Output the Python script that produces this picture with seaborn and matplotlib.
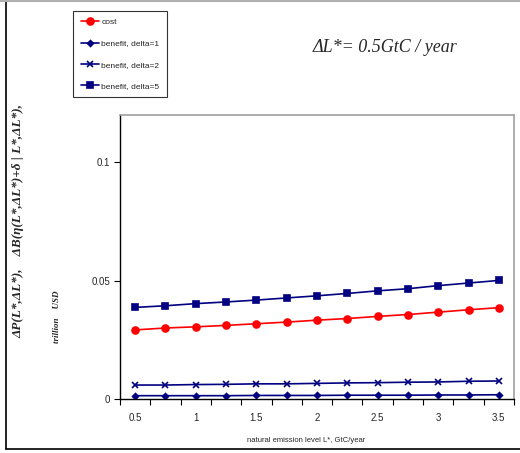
import numpy as np
import pandas as pd
import matplotlib
matplotlib.use("Agg")
import matplotlib.pyplot as plt
from matplotlib.lines import Line2D
import seaborn as sns

# Natural emission level L*, GtC/year
emission_levels = [0.5, 0.75, 1.0, 1.25, 1.5, 1.75, 2.0, 2.25, 2.5, 2.75, 3.0, 3.25, 3.5]
x_tick_labels = ["0.5", "1", "1.5", "2", "2.5", "3", "3.5"]
y_tick_values = [0, 0.05, 0.1]
y_tick_labels = ["0", "0.05", "0.1"]

# Cost and benefits, trillion USD
cost = [0.0292, 0.0300, 0.0305, 0.0311, 0.0318, 0.0325, 0.0333,
        0.0340, 0.0349, 0.0357, 0.0367, 0.0377, 0.0386]
benefit_delta1 = [0.0014, 0.0014, 0.0014, 0.0014, 0.0015, 0.0015, 0.0015,
                  0.0016, 0.0016, 0.0016, 0.0017, 0.0017, 0.0018]
benefit_delta2 = [0.0059, 0.0059, 0.0061, 0.0062, 0.0064, 0.0064, 0.0066,
                  0.0068, 0.0069, 0.0071, 0.0072, 0.0075, 0.0076]
benefit_delta5 = [0.0387, 0.0394, 0.0403, 0.0410, 0.0418, 0.0427, 0.0436,
                  0.0446, 0.0457, 0.0466, 0.0479, 0.0490, 0.0501]

series_names = ["cost", "benefit, delta=1", "benefit, delta=2", "benefit, delta=5"]
series_values = [cost, benefit_delta1, benefit_delta2, benefit_delta5]

df = pd.DataFrame({
    "L": np.tile(emission_levels, len(series_names)),
    "value": np.concatenate(series_values),
    "series": np.repeat(series_names, len(emission_levels)),
})

sns.set_style("white")
plt.rcParams["font.family"] = ["Liberation Sans", "DejaVu Sans"]

W, H = 520, 453
fig = plt.figure(figsize=(W / 100, H / 100), dpi=100)
ax = fig.add_axes([120 / W, 1 - 399 / H, (514 - 120) / W, (399 - 115) / H])

palette = {"cost": "#ff0000", "benefit, delta=1": "#000080",
           "benefit, delta=2": "#000080", "benefit, delta=5": "#000080"}
markers = {"cost": "o", "benefit, delta=1": "D",
           "benefit, delta=2": "x", "benefit, delta=5": "s"}
sizes = {"cost": 5.0, "benefit, delta=1": 3.0,
         "benefit, delta=2": 3.8, "benefit, delta=5": 4.6}

handles = []
for name in series_names:
    sub = df[df["series"] == name]
    sns.lineplot(data=sub, x="L", y="value", ax=ax, color=palette[name],
                 marker=markers[name], markersize=sizes[name],
                 markeredgecolor=palette[name], markeredgewidth=1.2,
                 linewidth=1.2, legend=False)
    handles.append(Line2D([], [], color=palette[name], marker=markers[name],
                          markersize=sizes[name], markeredgecolor=palette[name],
                          markeredgewidth=1.2, linewidth=1.2, label=name))

ax.set_xlim(0.375, 3.625)
ax.set_ylim(0, 0.12)
ax.set_xticks([float(t) for t in x_tick_labels])
ax.set_xticklabels(x_tick_labels, fontsize=7)
ax.set_xticks(np.arange(0.375, 3.626, 0.25), minor=True)
ax.tick_params(axis="x", which="major", length=0, pad=10)
ax.tick_params(axis="x", which="minor", length=4, width=0.8, color="black",
               direction="out", bottom=True)
ax.set_yticks(y_tick_values)
ax.set_yticklabels(y_tick_labels, fontsize=7)
ax.tick_params(axis="y", which="major", length=4, width=0.8, color="black",
               direction="out", left=True, pad=3)
ax.set_xlabel("")
ax.set_ylabel("")

for side in ("left", "bottom"):
    ax.spines[side].set_color("black")
    ax.spines[side].set_linewidth(1.0)
for side in ("top", "right"):
    ax.spines[side].set_color("#a0a0a0")
    ax.spines[side].set_linewidth(1.2)

fig.text(306 / W, 1 - 441 / H, "natural emission level L*, GtC/year",
         fontsize=5.5, ha="center", va="center")

serif_bi = dict(family="Liberation Serif", style="italic", weight="bold")
fig.text(18 / W, 1 - 338 / H,
         "ΔP(L*,ΔL*),    ΔB(η(L*,ΔL*)+δ | L*,ΔL*),",
         rotation=90, ha="center", va="bottom", fontsize=9.5, **serif_bi)
fig.text(57 / W, 1 - 343 / H, "trillion    USD",
         rotation=90, ha="center", va="bottom", fontsize=6.5, **serif_bi)

fig.text(385 / W, 1 - 48 / H, "ΔL*= 0.5GtC / year", fontsize=13,
         ha="center", va="center", family="Liberation Serif", style="italic")

leg = fig.legend(handles=handles, loc="upper left",
                 bbox_to_anchor=(73 / W, 1 - 11 / H), frameon=True,
                 fontsize=6, handlelength=2.2, labelspacing=1.6,
                 borderpad=0.9, borderaxespad=0, fancybox=False,
                 handletextpad=0.3)
leg.get_frame().set_edgecolor("black")
leg.get_frame().set_linewidth(0.8)

# Outer frame lines around the chart area
fig.add_artist(Line2D([6 / W, 6 / W], [1 - 449 / H, 1], color="black",
                      linewidth=1.2, transform=fig.transFigure))
fig.add_artist(Line2D([6 / W, 1], [1 - 449 / H, 1 - 449 / H], color="black",
                      linewidth=1.2, transform=fig.transFigure))
fig.add_artist(Line2D([0, 1], [1 - 0.5 / H, 1 - 0.5 / H], color="#b0b0b0",
                      linewidth=1.5, transform=fig.transFigure))

fig.savefig("out.png", dpi=100)
